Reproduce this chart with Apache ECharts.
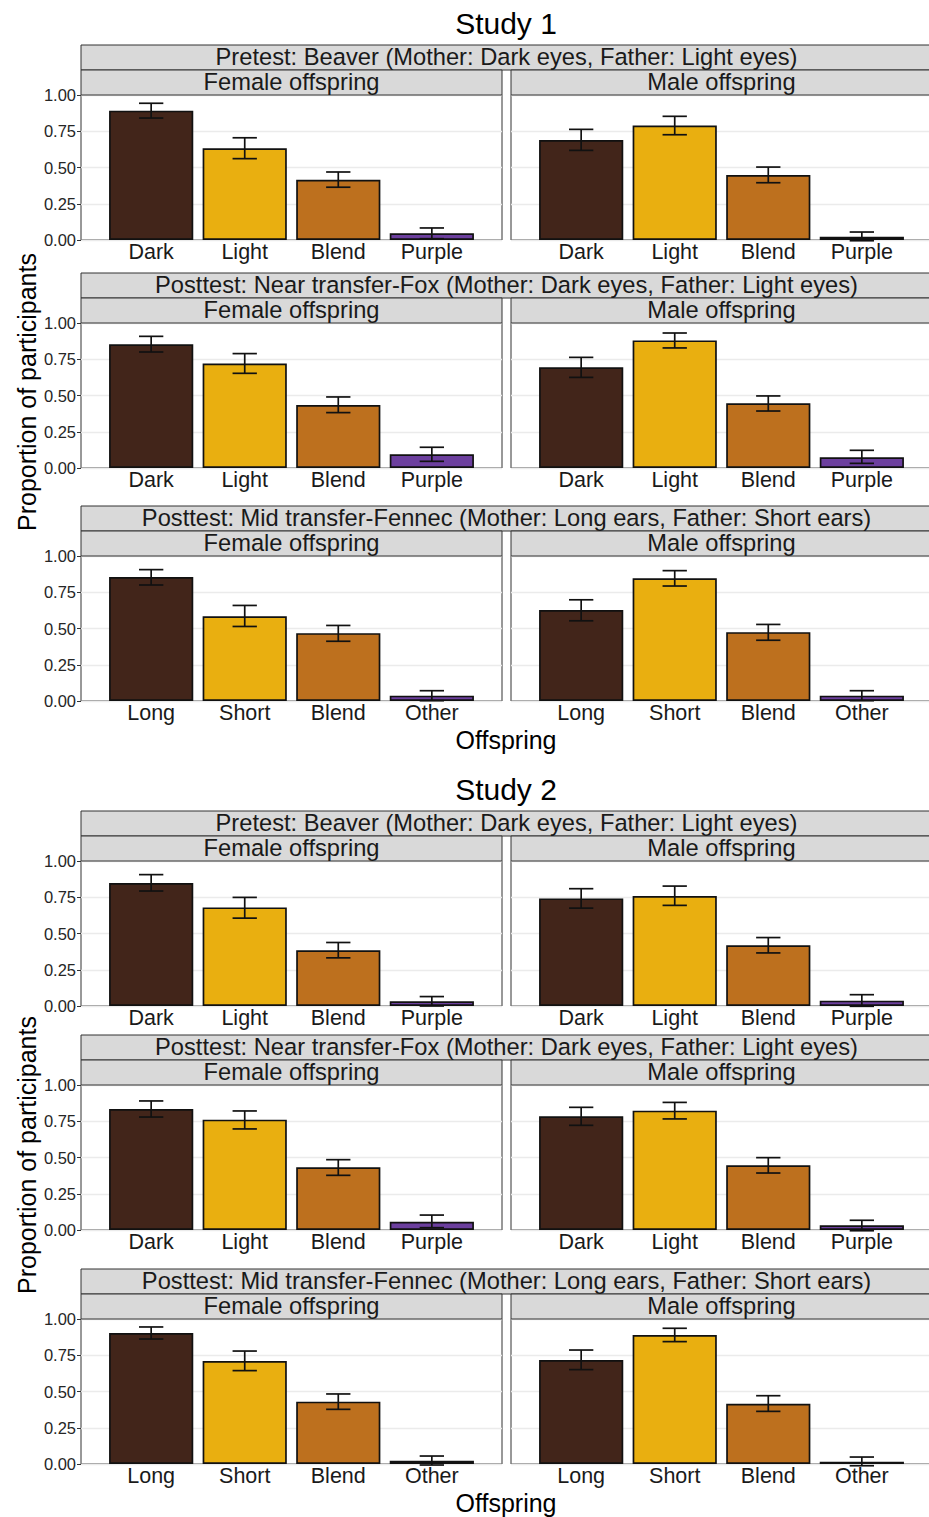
<!DOCTYPE html>
<html>
<head>
<meta charset="utf-8">
<script src="https://cdn.jsdelivr.net/npm/echarts@6/dist/echarts.min.js"></script>
<style>
html, body { margin: 0; padding: 0; background: #ffffff; }
#chart { width: 929px; height: 1517px; }
</style>
</head>
<body>
<div id="chart"></div>
<script>
// ---- Labels -------------------------------------------------------------
const eyeCategories = ['Dark', 'Light', 'Blend', 'Purple'];
const earCategories = ['Long', 'Short', 'Blend', 'Other'];
const studyTitles = ['Study 1', 'Study 2'];
const testTitles = [
  'Pretest: Beaver (Mother: Dark eyes, Father: Light eyes)',
  'Posttest: Near transfer-Fox (Mother: Dark eyes, Father: Light eyes)',
  'Posttest: Mid transfer-Fennec (Mother: Long ears, Father: Short ears)'
];
const sexTitles = ['Female offspring', 'Male offspring'];
const yTickValues = [0, 0.25, 0.5, 0.75, 1];
const xAxisTitle = 'Offspring';
const yAxisTitle = 'Proportion of participants';

// ---- Study 1: mean proportion per offspring type, with [low, high] error bars
const s1BeaverFemale = [0.892, 0.632, 0.416, 0.046];
const s1BeaverFemaleErr = [[0.841, 0.943], [0.561, 0.705], [0.364, 0.469], [0.009, 0.083]];
const s1BeaverMale = [0.690, 0.789, 0.448, 0.023];
const s1BeaverMaleErr = [[0.618, 0.763], [0.726, 0.853], [0.395, 0.503], [-0.005, 0.055]];

const s1FoxFemale = [0.853, 0.720, 0.434, 0.094];
const s1FoxFemaleErr = [[0.800, 0.908], [0.653, 0.789], [0.382, 0.490], [0.046, 0.143]];
const s1FoxMale = [0.694, 0.880, 0.446, 0.074];
const s1FoxMaleErr = [[0.625, 0.763], [0.828, 0.931], [0.393, 0.497], [0.032, 0.122]];

const s1FennecFemale = [0.855, 0.585, 0.468, 0.037];
const s1FennecFemaleErr = [[0.800, 0.906], [0.514, 0.659], [0.412, 0.521], [0.002, 0.071]];
const s1FennecMale = [0.627, 0.846, 0.475, 0.037];
const s1FennecMaleErr = [[0.553, 0.698], [0.793, 0.899], [0.419, 0.528], [0.002, 0.071]];

// ---- Study 2
const s2BeaverFemale = [0.848, 0.680, 0.385, 0.032];
const s2BeaverFemaleErr = [[0.793, 0.906], [0.606, 0.749], [0.332, 0.438], [0.000, 0.065]];
const s2BeaverMale = [0.742, 0.758, 0.419, 0.037];
const s2BeaverMaleErr = [[0.675, 0.809], [0.694, 0.827], [0.366, 0.472], [-0.002, 0.078]];

const s2FoxFemale = [0.834, 0.761, 0.432, 0.057];
const s2FoxFemaleErr = [[0.779, 0.890], [0.697, 0.821], [0.377, 0.485], [0.016, 0.103]];
const s2FoxMale = [0.784, 0.823, 0.446, 0.032];
const s2FoxMaleErr = [[0.722, 0.846], [0.766, 0.880], [0.393, 0.499], [-0.005, 0.067]];

const s2FennecFemale = [0.903, 0.710, 0.430, 0.023];
const s2FennecFemaleErr = [[0.862, 0.945], [0.644, 0.779], [0.377, 0.483], [-0.007, 0.055]];
const s2FennecMale = [0.717, 0.890, 0.416, 0.016];
const s2FennecMaleErr = [[0.651, 0.786], [0.844, 0.936], [0.363, 0.471], [-0.012, 0.048]];

// ---- Styling ------------------------------------------------------------
const fillColors = ['#42251A', '#E9AF10', '#BD701E', '#6C3F9E'];
const FONT = '"Liberation Sans", Helvetica, Arial, sans-serif';
const INK = '#1a1a1a';

// Panel geometry (facet grid: 6 rows x 2 columns)
const colLeft = [81, 511];
const panelW = 421;
const panelH = 145;
const rowTops = [95, 323, 556, 861, 1085, 1319];
const stripH = 25;
const xMin = 0.25, xMax = 4.75;          // discrete scale with 0.75 padding on each side
const barFrac = 0.9;                      // bar width as fraction of one category step
const capFrac = 0.26;                     // error-bar cap width in category steps

// Each row: [study index, test index, female means, female err, male means, male err]
const rows = [
  [0, 0, s1BeaverFemale, s1BeaverFemaleErr, s1BeaverMale, s1BeaverMaleErr],
  [0, 1, s1FoxFemale, s1FoxFemaleErr, s1FoxMale, s1FoxMaleErr],
  [0, 2, s1FennecFemale, s1FennecFemaleErr, s1FennecMale, s1FennecMaleErr],
  [1, 0, s2BeaverFemale, s2BeaverFemaleErr, s2BeaverMale, s2BeaverMaleErr],
  [1, 1, s2FoxFemale, s2FoxFemaleErr, s2FoxMale, s2FoxMaleErr],
  [1, 2, s2FennecFemale, s2FennecFemaleErr, s2FennecMale, s2FennecMaleErr]
];

const grids = [], xAxes = [], yAxes = [], series = [], graphics = [];
const barPx = barFrac * panelW / (xMax - xMin);

function stripBox(x, y, w, label) {
  graphics.push({
    type: 'rect', z: 10,
    shape: { x: x, y: y, width: w, height: stripH },
    style: { fill: '#D9D9D9', stroke: '#333333', lineWidth: 1 }
  });
  graphics.push({
    type: 'text', z: 11,
    x: x + w / 2, y: y + stripH / 2 - 0.5,
    style: { text: label, fontSize: 23.7, fontFamily: FONT, fill: INK, align: 'center', verticalAlign: 'middle' }
  });
}

rows.forEach((row, r) => {
  const [study, test] = row;
  const cats = test === 2 ? earCategories : eyeCategories;
  const top = rowTops[r];

  // Outer strip spans both columns
  stripBox(colLeft[0], top - 2 * stripH, colLeft[1] + panelW - colLeft[0], testTitles[test]);

  for (let c = 0; c < 2; c++) {
    const means = row[2 + 2 * c];
    const errs = row[3 + 2 * c];
    const idx = grids.length;
    stripBox(colLeft[c], top - stripH, panelW, sexTitles[c]);

    grids.push({
      left: colLeft[c], top: top, width: panelW, height: panelH,
      show: true, backgroundColor: '#ffffff', borderColor: '#333333', borderWidth: 1,
      containLabel: false, outerBoundsMode: 'none'
    });
    xAxes.push({
      type: 'value', gridIndex: idx, min: xMin, max: xMax,
      axisLine: { show: false }, axisTick: { show: false }, splitLine: { show: false },
      axisLabel: {
        customValues: [1, 2, 3, 4],
        formatter: v => cats[Math.round(v) - 1],
        fontSize: 21.5, fontFamily: FONT, color: INK, margin: 1
      }
    });
    yAxes.push({
      type: 'value', gridIndex: idx, min: 0, max: 1, interval: 0.25,
      axisLine: { show: false },
      axisTick: { show: c === 0, length: 4, lineStyle: { color: '#333333', width: 1 } },
      axisLabel: {
        show: c === 0, fontSize: 16.5, fontFamily: FONT, color: '#262626', margin: 5,
        customValues: yTickValues,
        formatter: v => v.toFixed(2)
      },
      splitLine: { show: true, lineStyle: { color: '#EBEBEB', width: 1.3 } }
    });
    series.push({
      type: 'bar', xAxisIndex: idx, yAxisIndex: idx, barWidth: barPx,
      silent: true, animation: false, z: 2,
      itemStyle: { borderColor: '#111111', borderWidth: 1.7 },
      data: means.map((v, k) => ({ value: [k + 1, v], itemStyle: { color: fillColors[k] } }))
    });
    series.push({
      type: 'custom', xAxisIndex: idx, yAxisIndex: idx, silent: true, animation: false, z: 3,
      encode: { x: 0, y: [1, 2] },
      data: errs.map((e, k) => [k + 1, e[0], e[1]]),
      renderItem: (params, api) => {
        const x = api.value(0);
        const lo = api.coord([x, api.value(1)]);
        const hi = api.coord([x, api.value(2)]);
        const half = api.size([capFrac, 0])[0] / 2;
        const st = { stroke: '#111111', lineWidth: 1.7 };
        return {
          type: 'group',
          children: [
            { type: 'line', shape: { x1: lo[0], y1: lo[1], x2: hi[0], y2: hi[1] }, style: st },
            { type: 'line', shape: { x1: lo[0] - half, y1: lo[1], x2: lo[0] + half, y2: lo[1] }, style: st },
            { type: 'line', shape: { x1: hi[0] - half, y1: hi[1], x2: hi[0] + half, y2: hi[1] }, style: st }
          ]
        };
      }
    });
  }
});

// Study titles and shared axis titles
const titleY = [23, 789];
const xTitleY = [740, 1503];
const yTitleY = [392, 1155];
studyTitles.forEach((t, s) => {
  graphics.push({ type: 'text', x: 506, y: titleY[s],
    style: { text: t, fontSize: 30, fontFamily: FONT, fill: '#000000', align: 'center', verticalAlign: 'middle' } });
  graphics.push({ type: 'text', x: 506, y: xTitleY[s],
    style: { text: xAxisTitle, fontSize: 25, fontFamily: FONT, fill: '#000000', align: 'center', verticalAlign: 'middle' } });
  graphics.push({ type: 'text', x: 27, y: yTitleY[s], rotation: Math.PI / 2,
    style: { text: yAxisTitle, fontSize: 25, fontFamily: FONT, fill: '#000000', align: 'center', verticalAlign: 'middle' } });
});

const chart = echarts.init(document.getElementById('chart'), null, { renderer: 'svg' });
chart.setOption({
  animation: false,
  backgroundColor: '#ffffff',
  grid: grids,
  xAxis: xAxes,
  yAxis: yAxes,
  series: series,
  graphic: { elements: graphics }
});
</script>
</body>
</html>
